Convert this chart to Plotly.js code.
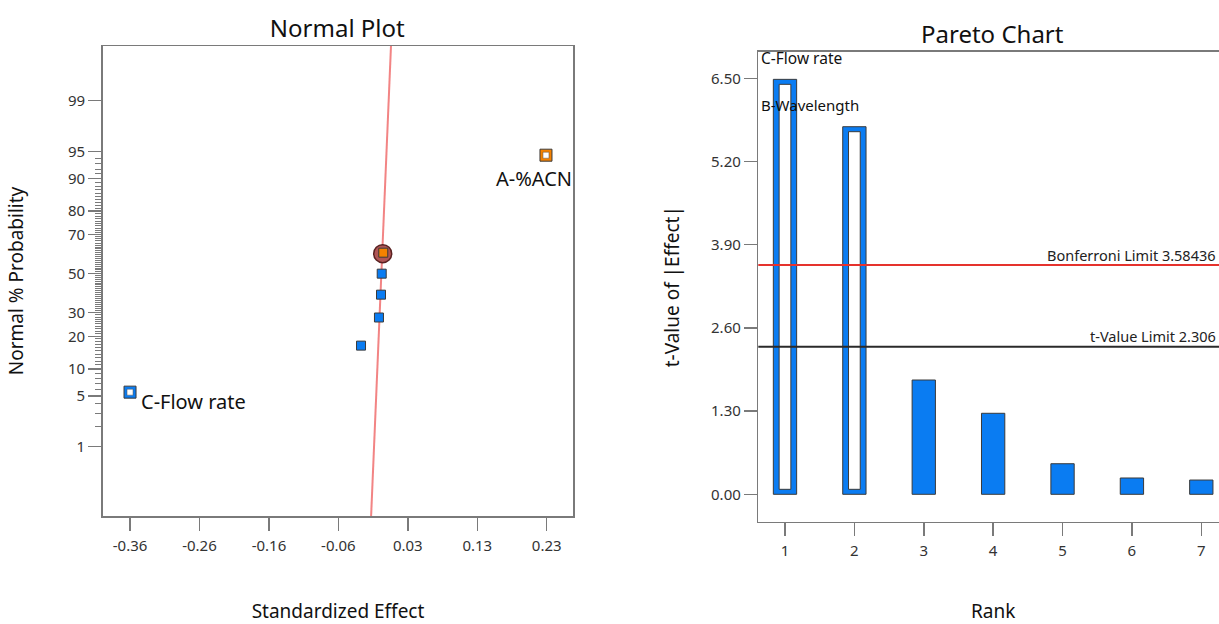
<!DOCTYPE html>
<html><head><meta charset="utf-8">
<script src="https://cdn.plot.ly/plotly-3.0.1.min.js"></script>
<style>html,body{margin:0;padding:0;overflow:hidden;background:#fff}#chart{width:1240px;height:624px}</style>
</head><body><div id="chart"></div>
<script>
// ---------- Normal plot data ----------
const labeledNames  = ['C-Flow rate', 'A-%ACN'];
const cEffect = [-0.360];
const cProb   = [5.56];
const aEffect = [0.229];
const aProb   = [94.44];
const otherEffect = [-0.0329, -0.0075, -0.0046, -0.0036];
const otherProb   = [16.67, 27.78, 38.89, 50.00];
const centerEffect = [-0.0014];
const centerProb   = [61.11];
const circleEffect = [-0.0022];
const circleProb   = [60.6];
const fitLineEffect = [-0.0219, 0.0137];
const fitLineProb   = [0.0032, 99.9968];
const normalYTicks = [1, 5, 10, 20, 30, 50, 70, 80, 90, 95, 99];
const normalXTickVals   = [-0.36, -0.2617, -0.1633, -0.065, 0.0333, 0.1317, 0.23];
const normalXTickLabels = ['-0.36', '-0.26', '-0.16', '-0.06', '0.03', '0.13', '0.23'];

// ---------- Pareto data ----------
const paretoRanks   = [1, 2, 3, 4, 5, 6, 7];
const paretoTValues = [6.484, 5.744, 1.786, 1.266, 0.478, 0.255, 0.223];
const paretoLabels  = ['C-Flow rate', 'B-Wavelength'];
const hollowRanks   = [1, 2];
const bonferroniLimit = 3.58436;
const tValueLimit     = 2.306;
const paretoYTicks = [0, 1.3, 2.6, 3.9, 5.2, 6.5];

// inverse standard normal CDF (Acklam) for the probability axis
function probit(pct) {
  const p = pct / 100;
  const a = [-3.969683028665376e+01, 2.209460984245205e+02, -2.759285104469687e+02, 1.383577518672690e+02, -3.066479806614716e+01, 2.506628277459239e+00];
  const b = [-5.447609879822406e+01, 1.615858368580409e+02, -1.556989798598866e+02, 6.680131188771972e+01, -1.328068155288572e+01];
  const c = [-7.784894002430293e-03, -3.223964580411365e-01, -2.400758277161838e+00, -2.549732539343734e+00, 4.374664141464968e+00, 2.938163982698783e+00];
  const d = [7.784695709041462e-03, 3.224671290700398e-01, 2.445134137142996e+00, 3.754408661907416e+00];
  const pl = 0.02425, ph = 1 - pl;
  let q, r;
  if (p < pl) { q = Math.sqrt(-2 * Math.log(p)); return (((((c[0]*q+c[1])*q+c[2])*q+c[3])*q+c[4])*q+c[5]) / ((((d[0]*q+d[1])*q+d[2])*q+d[3])*q+1); }
  if (p <= ph) { q = p - 0.5; r = q*q; return (((((a[0]*r+a[1])*r+a[2])*r+a[3])*r+a[4])*r+a[5])*q / (((((b[0]*r+b[1])*r+b[2])*r+b[3])*r+b[4])*r+1); }
  q = Math.sqrt(-2 * Math.log(1 - p)); return -(((((c[0]*q+c[1])*q+c[2])*q+c[3])*q+c[4])*q+c[5]) / ((((d[0]*q+d[1])*q+d[2])*q+d[3])*q+1);
}
const Z = arr => arr.map(probit);

const minorY = [];
for (let i = 2; i <= 95; i++) if (normalYTicks.indexOf(i) < 0) minorY.push(i);

const W = 1240, H = 624;
const FONT = 'Noto Sans, sans-serif';
const BLUE = '#0a7cf2', ORANGE = '#f58200', EDGE = '#3a3a3a';
const AX = '#7a7a7a', TXT = '#333333';

const traces = [
  { x: fitLineEffect, y: Z(fitLineProb), mode: 'lines', line: {color: 'rgba(240,110,110,0.85)', width: 2}, xaxis: 'x', yaxis: 'y', hoverinfo: 'skip' },
  { x: circleEffect, y: Z(circleProb), mode: 'markers', marker: {symbol: 'circle', size: 18, color: '#b05656', line: {color: '#5a2222', width: 1.5}}, xaxis: 'x', yaxis: 'y' },
  { x: otherEffect, y: Z(otherProb), mode: 'markers', marker: {symbol: 'square', size: 9, color: BLUE, line: {color: EDGE, width: 1}}, xaxis: 'x', yaxis: 'y' },
  { x: centerEffect, y: Z(centerProb), mode: 'markers', marker: {symbol: 'square', size: 9, color: ORANGE, line: {color: EDGE, width: 1}}, xaxis: 'x', yaxis: 'y' },
  { x: cEffect, y: Z(cProb), mode: 'markers', marker: {symbol: 'square', size: 12, color: BLUE, line: {color: EDGE, width: 1}}, xaxis: 'x', yaxis: 'y' },
  { x: cEffect, y: Z(cProb), mode: 'markers', marker: {symbol: 'square', size: 6, color: '#ffffff', line: {color: '#555', width: 0.5}}, xaxis: 'x', yaxis: 'y' },
  { x: aEffect, y: Z(aProb), mode: 'markers', marker: {symbol: 'square', size: 12, color: ORANGE, line: {color: EDGE, width: 1}}, xaxis: 'x', yaxis: 'y' },
  { x: aEffect, y: Z(aProb), mode: 'markers', marker: {symbol: 'square', size: 6, color: '#ffffff', line: {color: '#555', width: 0.5}}, xaxis: 'x', yaxis: 'y' },
  // Pareto bars
  { type: 'bar', x: paretoRanks, y: paretoTValues, width: 0.336, marker: {color: BLUE, line: {color: EDGE, width: 1}}, xaxis: 'x2', yaxis: 'y2' },
  { type: 'bar', x: hollowRanks, y: hollowRanks.map(r => paretoTValues[r - 1] - 0.156), base: 0.078, width: 0.169,
    marker: {color: '#ffffff', line: {color: EDGE, width: 1}}, xaxis: 'x2', yaxis: 'y2' },
  { x: [0.5, 8], y: [bonferroniLimit, bonferroniLimit], mode: 'lines', line: {color: '#e5322d', width: 2}, xaxis: 'x2', yaxis: 'y2' },
  { x: [0.5, 8], y: [tValueLimit, tValueLimit], mode: 'lines', line: {color: '#2a2a2a', width: 2}, xaxis: 'x2', yaxis: 'y2' }
];

const axCommon = {showgrid: false, zeroline: false, showline: true, mirror: true, linecolor: AX, linewidth: 1.5,
  ticks: 'outside', ticklen: 13, tickwidth: 1.5, tickcolor: AX, tickfont: {family: FONT, size: 15, color: TXT}};
const titleFont = {family: FONT, size: 19, color: '#111'};

const layout = {
  width: W, height: H, margin: {l: 0, r: 0, t: 0, b: 0}, showlegend: false, barmode: 'overlay',
  paper_bgcolor: '#fff', plot_bgcolor: '#fff', font: {family: FONT, color: TXT},
  title: {text: 'Normal Plot', x: 337.3 / W, xanchor: 'center', y: 1 - 28.3 / H, yanchor: 'middle', font: {family: FONT, size: 24, color: '#111'}},
  xaxis: Object.assign({}, axCommon, {domain: [102.7 / W, 573.3 / W], anchor: 'y', range: [-0.3987, 0.2677],
    tickmode: 'array', tickvals: normalXTickVals, ticktext: normalXTickLabels, ticklabelstandoff: 2,
    title: {text: 'Standardized Effect', font: titleFont, standoff: 52}}),
  yaxis: Object.assign({}, axCommon, {domain: [1 - 516 / H, 1 - 46 / H], anchor: 'x', range: [-3.258, 3.061],
    tickmode: 'array', tickvals: Z(normalYTicks), ticktext: normalYTicks.map(String),
    minor: {tickmode: 'array', tickvals: Z(minorY), ticks: 'outside', ticklen: 6, tickwidth: 1, tickcolor: AX},
    title: {text: 'Normal % Probability', font: titleFont, standoff: 39}}),
  xaxis2: Object.assign({}, axCommon, {domain: [758.3 / W, 1228 / W], anchor: 'y2', range: [0.6153, 7.3847],
    tickmode: 'array', tickvals: paretoRanks, ticktext: paretoRanks.map(String), ticklabelstandoff: 2,
    title: {text: 'Rank', font: titleFont, standoff: 52}}),
  yaxis2: Object.assign({}, axCommon, {domain: [1 - 521.7 / H, 1 - 51.7 / H], anchor: 'x2', range: [-0.428, 6.916],
    tickmode: 'array', tickvals: paretoYTicks, ticktext: paretoYTicks.map(v => v.toFixed(2)),
    title: {text: 't-Value of |Effect|', font: titleFont, standoff: 26}}),
  annotations: [
    {text: 'Pareto Chart', xref: 'paper', yref: 'paper', x: 992.6 / W, y: 1 - 33.3 / H, xanchor: 'center', yanchor: 'middle', showarrow: false, font: {family: FONT, size: 24, color: '#111'}},
    {text: labeledNames[1], xref: 'x', yref: 'y', x: aEffect[0], y: probit(aProb[0]), xanchor: 'right', yanchor: 'middle', xshift: 28, yshift: -23, showarrow: false, font: {family: FONT, size: 20, color: '#111'}},
    {text: labeledNames[0], xref: 'x', yref: 'y', x: cEffect[0], y: probit(cProb[0]), xanchor: 'left', yanchor: 'middle', xshift: 9, yshift: -9.4, showarrow: false, font: {family: FONT, size: 20, color: '#111'}},
    {text: paretoLabels[0], xref: 'paper', yref: 'y2', x: 759 / W, y: paretoTValues[0], xanchor: 'left', yanchor: 'middle', yshift: 21.6, showarrow: false, font: {family: FONT, size: 15.5, color: '#111'}},
    {text: paretoLabels[1], xref: 'paper', yref: 'y2', x: 759 / W, y: paretoTValues[1], xanchor: 'left', yanchor: 'middle', yshift: 21.4, showarrow: false, font: {family: FONT, size: 15, color: '#111'}},
    {text: 'Bonferroni Limit ' + bonferroniLimit.toFixed(5), xref: 'paper', yref: 'y2', x: 1218 / W, y: bonferroniLimit, xanchor: 'right', yanchor: 'middle', yshift: 10.3, showarrow: false, font: {family: FONT, size: 14.5, color: '#222'}},
    {text: 't-Value Limit ' + tValueLimit.toFixed(3), xref: 'paper', yref: 'y2', x: 1218 / W, y: tValueLimit, xanchor: 'right', yanchor: 'middle', yshift: 10.6, showarrow: false, font: {family: FONT, size: 14.5, color: '#222'}}
  ]
};

Plotly.newPlot('chart', traces, layout, {staticPlot: true, displayModeBar: false});
</script>
</body></html>
